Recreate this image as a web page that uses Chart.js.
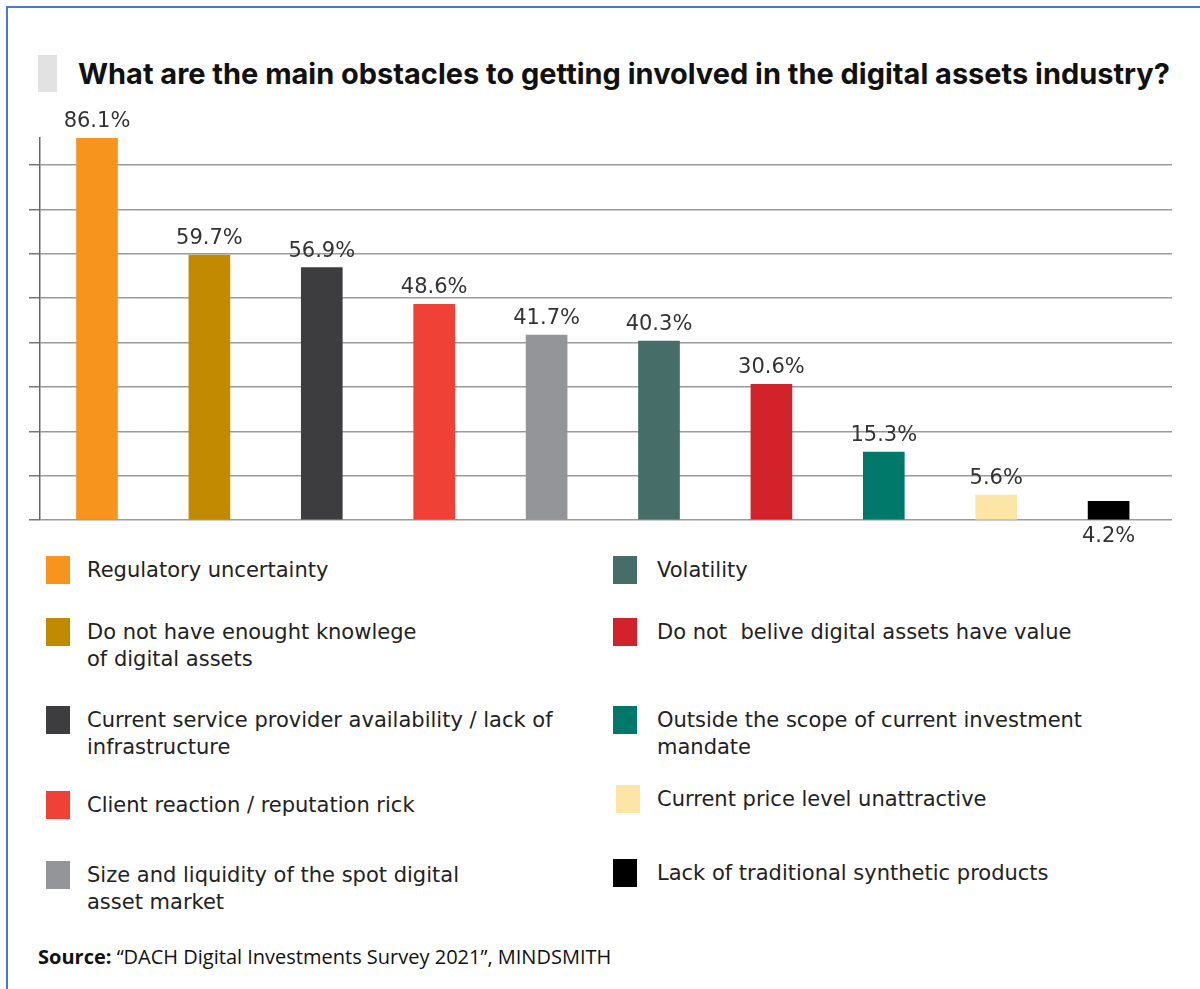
<!DOCTYPE html>
<html>
<head>
<meta charset="utf-8">
<script src="https://cdn.jsdelivr.net/npm/chart.js@4.4.0/dist/chart.umd.min.js"></script>
<style>
  body { margin: 0; width: 1200px; height: 989px; background: #fff; position: relative; overflow: hidden; font-family: "DejaVu Sans", sans-serif; }
  #frame { position: absolute; left: 6px; top: 6px; width: 1300px; height: 1100px; border-left: 2px solid #4a78d0; border-top: 2px solid #4a78d0; }
  #titleBox { position: absolute; left: 38px; top: 55px; width: 19px; height: 37px; background: #e2e2e2; }
  #title { position: absolute; left: 78px; top: 58px; font-family: Inter, sans-serif; font-weight: 700; font-size: 24px; line-height: 32px; color: #111; white-space: nowrap; }
  #chartWrap { position: absolute; left: 0; top: 100px; width: 1200px; height: 450px; }
  .sw { position: absolute; width: 24px; height: 28px; }
  .txt { position: absolute; font-size: 21px; line-height: 27px; color: #222; white-space: pre; }
  #source { position: absolute; left: 38px; top: 943px; font-family: "Open Sans", sans-serif; font-size: 20px; color: #111; white-space: nowrap; }
</style>
</head>
<body>
<div id="frame"></div>
<div id="titleBox"></div>
<div id="title">What are the main obstacles to getting involved in the digital assets industry?</div>
<div id="chartWrap"><canvas id="barChart" width="1200" height="450"></canvas></div>
<div id="legend"></div>
<div id="source"><b>Source:</b> “DACH Digital Investments Survey 2021”, MINDSMITH</div>
<script>
const categories = [
    'Regulatory uncertainty',
    'Do not have enought knowlege\nof digital assets',
    'Current service provider availability / lack of\ninfrastructure',
    'Client reaction / reputation rick',
    'Size and liquidity of the spot digital\nasset market',
    'Volatility',
    'Do not  belive digital assets have value',
    'Outside the scope of current investment\nmandate',
    'Current price level unattractive',
    'Lack of traditional synthetic products'
];
const values = [86.1, 59.7, 56.9, 48.6, 41.7, 40.3, 30.6, 15.3, 5.6, 4.2];
const colors = ['#f7941d', '#c28a00', '#3d3d3f', '#ef4136', '#939598',
                '#476d69', '#d2232a', '#00786a', '#fde5a6', '#000000'];

// fit title to the width it has in the picture
const title = document.getElementById('title');
title.style.fontSize = (24 * 1092 / title.offsetWidth).toFixed(2) + 'px';

// legend: two columns of five
const legend = document.getElementById('legend');
const rowY = [[570, 632, 720, 805, 875], [570, 632, 720, 799, 873]];
categories.forEach((name, i) => {
    const col = i < 5 ? 0 : 1;
    const y = rowY[col][i % 5];
    const sw = document.createElement('div');
    sw.className = 'sw';
    sw.style.background = colors[i];
    sw.style.left = (col ? (i === 8 ? 616 : 613) : 46) + 'px';
    sw.style.top = (y - 14) + 'px';
    const txt = document.createElement('div');
    txt.className = 'txt';
    txt.textContent = name;
    txt.style.left = (col ? 657 : 87) + 'px';
    txt.style.top = (y - 13.5) + 'px';
    legend.appendChild(sw);
    legend.appendChild(txt);
});

// value labels above each bar (the last one sits under the axis)
const valueLabels = {
    id: 'valueLabels',
    afterDatasetsDraw(chart) {
        const ctx = chart.ctx;
        const meta = chart.getDatasetMeta(0);
        ctx.save();
        ctx.font = '400 21px "DejaVu Sans", sans-serif';
        ctx.fillStyle = '#333';
        ctx.textAlign = 'center';
        meta.data.forEach((bar, i) => {
            const txt = values[i].toFixed(1) + '%';
            if (i === values.length - 1) {
                ctx.textBaseline = 'top';
                ctx.fillText(txt, bar.x, chart.chartArea.bottom + 6);
            } else {
                ctx.textBaseline = 'alphabetic';
                ctx.fillText(txt, bar.x, bar.y - 11);
            }
        });
        ctx.restore();
    }
};

let ctx = document.getElementById('barChart').getContext('2d');
let barChart = new Chart(ctx, {
    type: 'bar',
    data: {
        datasets: [{
            data: values.map((v, i) => ({ x: i, y: v })),
            backgroundColor: colors,
            barThickness: 41
        }]
    },
    options: {
        responsive: false,
        animation: false,
        layout: { padding: { left: 29, right: 28, top: 38, bottom: 30 } },
        plugins: { legend: { display: false }, tooltip: { enabled: false } },
        scales: {
            x: { type: 'linear', offset: false, min: -0.507, max: 9.564, display: false },
            y: {
                min: 0,
                max: 86.1,
                ticks: { display: false, stepSize: 10 },
                afterBuildTicks: scale => {
                    scale.ticks = scale.ticks.filter(t => t.value % 10 === 0);
                },
                grid: { color: '#9a9a9a', lineWidth: 1.5, tickLength: 11, tickColor: '#777' },
                border: { display: true, color: '#666', width: 1.5 }
            }
        }
    },
    plugins: [valueLabels]
});
</script>
</body>
</html>
